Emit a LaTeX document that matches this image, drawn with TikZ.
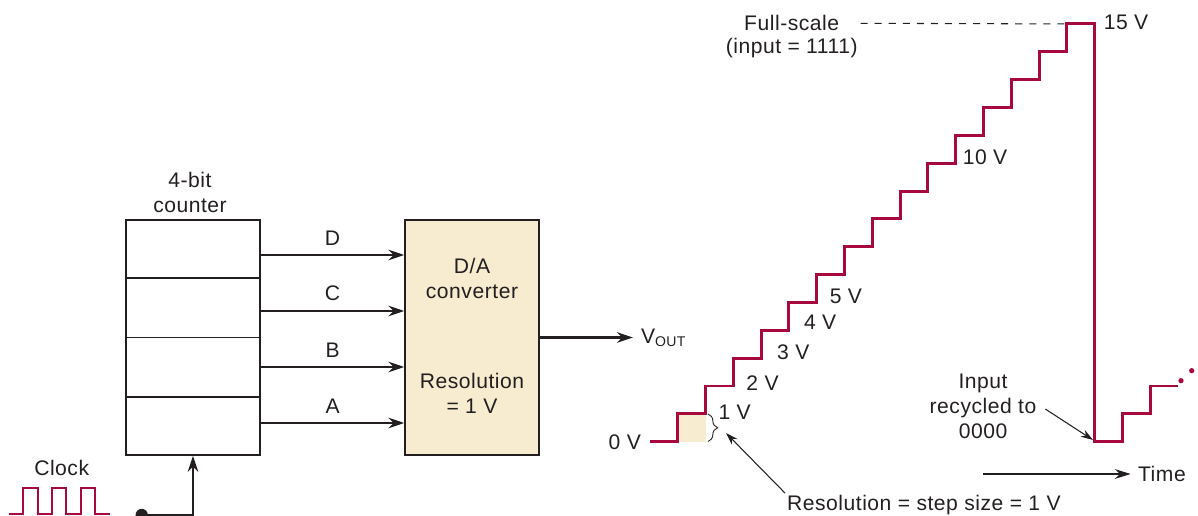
\documentclass[tikz,border=0pt]{standalone}
\usepackage{fontspec}
\setmainfont{Liberation Sans}[LetterSpace=2.5]
\usetikzlibrary{arrows.meta, calc, positioning, decorations.pathreplacing}
\definecolor{stairRed}{RGB}{166, 10, 60}
\definecolor{dacTan}  {RGB}{248,236,208}
\definecolor{inkGray} {RGB}{ 35, 31, 32}

\begin{document}
\begin{tikzpicture}[
  x=0.02cm, y=-0.02cm,
  every node/.style={font=\fontsize{12}{14.2}\selectfont, text=inkGray, inner sep=1pt},
  blk/.style={rectangle, draw=inkGray, line width=1.1pt,
    minimum width=2.68cm, minimum height=4.7cm},
  bus/.style={draw=inkGray, line width=1.3pt, -{Stealth[length=9pt, width=6pt]}},
  ptr/.style={draw=inkGray, line width=0.6pt, -{Stealth[length=7pt, width=4.5pt]}},
  stair/.style={draw=stairRed, line width=1.7pt},
  lvl/.style={anchor=west},
]
\useasboundingbox (0,0) rectangle (1198,516);
%% step width / step height (in px units)
\def\sw{27.8}
\def\sh{27.85}
\def\xr{677.7}        % x of first riser
\def\yz{441.7}        % y of 0 V level

%% ── Counter ─────────────────────────────────────────────────────────────────
\node[blk] (cnt) at (193,337.5) {};
\foreach \i in {1,2,3}
  \draw[inkGray, line width=0.9pt]
    ($(cnt.north west)!\i/4!(cnt.south west)$) -- ($(cnt.north east)!\i/4!(cnt.south east)$);
\node[align=center] (cntlbl) at (190,192) {4-bit\\counter};

%% ── D/A converter ───────────────────────────────────────────────────────────
\node[blk, fill=dacTan] (dac) at (472.2,337.5) {};
\node[align=center] (daname) at (472,278) {D/A\\converter};
\node[align=center] (dares)  at (472,393) {Resolution\\= 1 V};

%% bit lines D..A
\foreach \y/\b in {255/D, 311/C, 367/B, 423/A}{
  \coordinate (in\b) at (405,\y);
  \draw[bus] (in\b -| cnt.east) -- node[above=4pt] {\b} (in\b -| dac.west);
}

%% output
\node[anchor=west] (vout) at (639,337.5) {V\textsubscript{OUT}};
\draw[bus, shorten >=3.5pt] (dac.east) -- (dac.east -| vout.west);

%% ── Clock ───────────────────────────────────────────────────────────────────
\node (clk) at (61.7,468.3) {Clock};
\draw[stairRed, line width=1.2pt] (9.3,514)
  \foreach \x in {23.3,51.7,80.7}{ -- (\x,514) -- (\x,487.7) -- (\x+14.5,487.7) -- (\x+14.5,514)}
  -- (110,514);
\coordinate (clkin) at (141.7,515);
\fill[inkGray] (clkin) circle (3.5pt);
\draw[bus] (clkin) -| (cnt.south);

%% ── Staircase output ────────────────────────────────────────────────────────
\coordinate (z0) at (650,\yz);
\coordinate (r1) at (\xr,\yz);
\fill[dacTan] (r1) rectangle ++(\sw,-\sh);
\draw[stair] (z0) -- (r1)
  \foreach \k in {1,...,15}{ -- ++(0,-\sh) -- ++(\sw,0)}
  -- ++(0,15*\sh) coordinate (bot)
  \foreach \k in {1,2}{ -- ++(\sw,0) -- ++(0,-\sh)}
  -- ++(27.7,0);
\fill[stairRed] (1181,380.7) circle (1.5pt);
\fill[stairRed] (1191.7,370.7) circle (1.5pt);

%% level labels: k / dx / dy from the next riser
\node[anchor=east] (v0) at (643,442) {0 V};
\foreach \k/\dx/\dy in {1/11/2, 2/11/3, 3/14/6, 4/13/8, 5/11/6, 10/5/6, 15/7/2}
  \node[lvl] (v\k) at (\xr+\k*\sw+\dx, \yz-\k*\sh-\dy) {\k\ V};

%% resolution brace
\draw[inkGray, line width=0.5pt, decorate, decoration={brace, amplitude=5.5pt}]
  (708,414) -- (708,441.5);
\coordinate (bt) at (726,433);
\node[anchor=west] (resn) at (785,505) {Resolution = step size = 1 V};
\draw[ptr] (resn.north west) -- (bt);

%% full scale
\coordinate (fstop) at (\xr+14*\sw, \yz-15*\sh);
\node (fs)   at (791.7,23.3) {Full-scale};
\node (fsin) at (791.7,48.3) {(input = 1111)};
\draw[inkGray, line width=0.6pt, dash pattern=on 4pt off 4pt] ([xshift=11pt]fs.east) -- (fstop);

%% recycle
\node[align=center] (recyc) at (983,406.5) {Input\\recycled to\\0000};
\coordinate (cyc0) at (1093,440);
\draw[ptr] ([xshift=4pt,yshift=-1.5pt]recyc.east) -- (cyc0);

%% time axis
\coordinate (tst) at (983,474);
\node[anchor=west] (timen) at (1136,474) {Time};
\draw[draw=inkGray, line width=0.9pt, -{Stealth[length=9pt, width=5.5pt]}, shorten >=3pt] (tst) -- (timen.west);

\end{tikzpicture}
\end{document}
